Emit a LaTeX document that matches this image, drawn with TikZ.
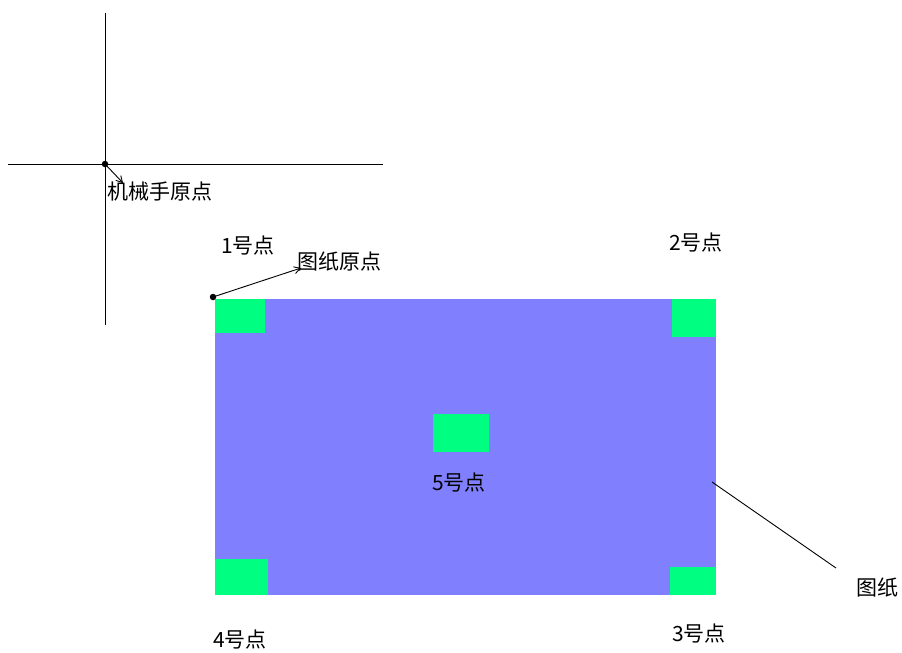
\documentclass[tikz,border=0pt]{standalone}
\usepackage{fontspec}
\setmainfont{Noto Sans CJK SC}
\usetikzlibrary{arrows.meta}
\definecolor{paper}{HTML}{8080FF}
\definecolor{mark}{HTML}{00FF80}
\begin{document}
\begin{tikzpicture}[x=1pt,y=-1pt,
  lbl/.style={inner sep=0pt,font=\fontsize{21}{21}\selectfont,anchor=west},
  markbox/.style={fill=mark,draw=none},
  thin/.style={line width=0.9pt,black},
  dotmark/.style={circle,fill=black,inner sep=0pt,minimum size=6.5pt}]
\useasboundingbox (0,0) rectangle (902,653);
% axes of the robot
\coordinate (vt) at (105,13);
\coordinate (vb) at (105,325);
\coordinate (hl) at (8,164);
\coordinate (hr) at (383,164);
\draw[thin] (vt) -- (vb);
\draw[thin] (hl) -- (hr);
\node[dotmark] (ro) at (105,164) {};
\coordinate (roend) at (123,183);
\draw[thin,-{Straight Barb[length=6pt,width=7pt]}] (ro.center) -- (roend);
\node[lbl] (rolbl) at (107,192) {机械手原点};
% paper
\fill[paper] (215,299) rectangle (716,595);
\node[markbox,minimum width=50pt,minimum height=34pt,inner sep=0pt] (p1) at (240,316) {};
\node[markbox,minimum width=44pt,minimum height=38pt,inner sep=0pt] (p2) at (694,318) {};
\node[markbox,minimum width=56pt,minimum height=38pt,inner sep=0pt] (p5) at (461,433) {};
\node[markbox,minimum width=53pt,minimum height=36pt,inner sep=0pt] (p4) at (241.5,577) {};
\node[markbox,minimum width=46pt,minimum height=28pt,inner sep=0pt] (p3) at (693,581) {};
% paper origin
\node[dotmark] (po) at (213,297) {};
\coordinate (poend) at (301,268);
\draw[thin,-{Straight Barb[length=6pt,width=7pt]}] (po.center) -- (poend);
\node[lbl] (polbl) at (297,262) {图纸原点};
% point labels
\node[lbl] (l1) at (221,246) {1号点};
\node[lbl] (l2) at (669,243) {2号点};
\node[lbl] (l5) at (432,483) {5号点};
\node[lbl] (l4) at (213,640) {4号点};
\node[lbl] (l3) at (672,634) {3号点};
% paper label
\coordinate (pl1) at (712,482);
\coordinate (pl2) at (836,568);
\draw[thin] (pl1) -- (pl2);
\node[lbl] (plbl) at (856,588) {图纸};
\end{tikzpicture}
\end{document}
